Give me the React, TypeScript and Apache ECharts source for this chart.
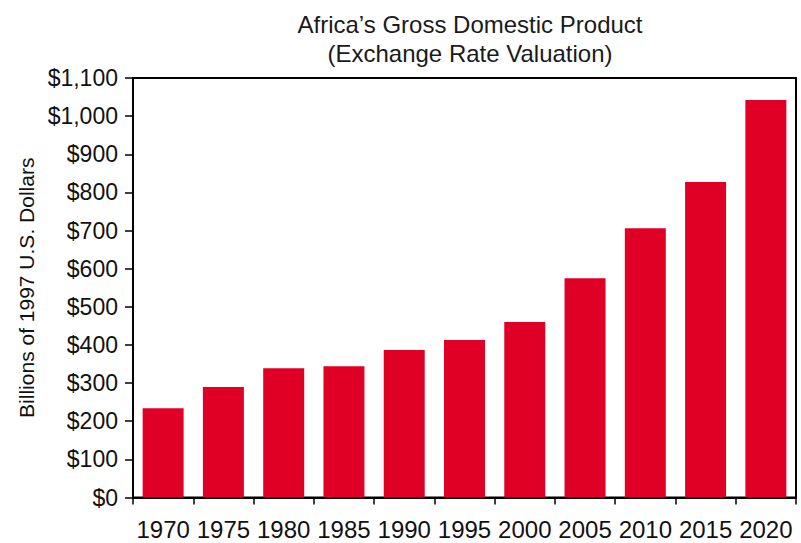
import React, { useEffect, useRef } from "react";
import * as echarts from "echarts";

const years = ["1970", "1975", "1980", "1985", "1990", "1995", "2000", "2005", "2010", "2015", "2020"];
const gdpBillions = [234, 290, 339, 344, 387, 413, 460, 575, 706, 827, 1042];
const yTickMax = 1100;
const yTickStep = 100;

const titleText = "Africa\u2019s Gross Domestic Product\n(Exchange Rate Valuation)";
const yAxisTitle = "Billions of 1997 U.S. Dollars";
const sansFont = "Liberation Sans";

export default function App() {
  const ref = useRef<HTMLDivElement>(null);

  useEffect(() => {
    if (!ref.current) return;
    const chart = echarts.init(ref.current, undefined, { renderer: "svg" });
    chart.setOption({
      animation: false,
      backgroundColor: "#ffffff",
      title: {
        text: titleText,
        left: 465,
        top: 5,
        textAlign: "center",
        textStyle: {
          fontFamily: sansFont,
          fontSize: 24,
          lineHeight: 29,
          fontWeight: "normal",
          color: "#1a1a1a",
        },
      },
      grid: {
        left: 133,
        right: 5,
        top: 78,
        bottom: 45.5,
        show: true,
        borderColor: "#000",
        borderWidth: 2,
      },
      xAxis: {
        type: "category",
        data: years,
        axisLine: { lineStyle: { color: "#000", width: 2 } },
        axisTick: { show: true, length: 7, lineStyle: { color: "#000", width: 1.5 } },
        axisLabel: { color: "#111", fontFamily: sansFont, fontSize: 24, margin: 20, interval: 0 },
      },
      yAxis: {
        type: "value",
        min: 0,
        max: yTickMax,
        interval: yTickStep,
        name: yAxisTitle,
        nameLocation: "middle",
        nameGap: 96,
        nameTextStyle: { fontFamily: sansFont, fontSize: 21, color: "#111" },
        splitLine: { show: false },
        axisLine: { show: true, lineStyle: { color: "#000", width: 2 } },
        axisTick: { show: true, length: 8, lineStyle: { color: "#000", width: 1.5 } },
        axisLabel: {
          color: "#111",
          fontFamily: sansFont,
          fontSize: 23,
          margin: 15,
          formatter: (v: number) => "$" + v.toLocaleString("en-US"),
        },
      },
      series: [
        {
          type: "bar",
          data: gdpBillions,
          barCategoryGap: "32%",
          itemStyle: { color: "#e00025" },
        },
      ],
    });
    return () => chart.dispose();
  }, []);

  return <div ref={ref} style={{ width: 801, height: 543, position: "absolute", left: 0, top: 0 }} />;
}
